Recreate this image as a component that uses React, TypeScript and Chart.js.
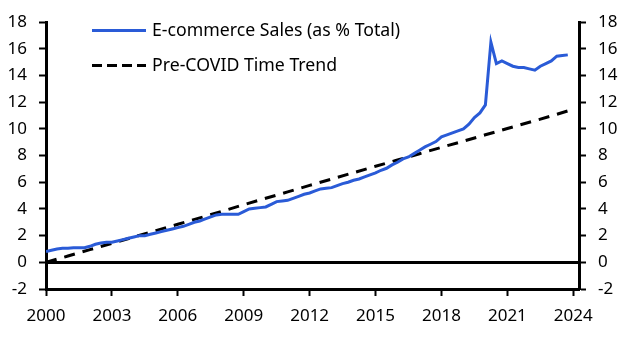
import React, { useEffect, useRef } from 'react';
import { Chart, registerables } from 'chart.js';

Chart.register(...registerables);

// ---- Data (quarterly, 2000Q1 .. 2023Q4) ----
const startYear = 2000;
const ecommerceSales = [
  0.8, 0.9, 1.0, 1.05,     // 2000
  1.05, 1.1, 1.1, 1.1,     // 2001
  1.2, 1.35, 1.45, 1.5,    // 2002
  1.5, 1.6, 1.7, 1.8,      // 2003
  1.9, 2.0, 2.0, 2.1,      // 2004
  2.2, 2.3, 2.4, 2.5,      // 2005
  2.6, 2.7, 2.85, 3.0,     // 2006
  3.1, 3.25, 3.4, 3.55,    // 2007
  3.6, 3.6, 3.6, 3.6,      // 2008
  3.8, 4.0, 4.05, 4.1,     // 2009
  4.15, 4.35, 4.55, 4.6,   // 2010
  4.65, 4.8, 4.95, 5.1,    // 2011
  5.2, 5.35, 5.5, 5.55,    // 2012
  5.6, 5.75, 5.9, 6.0,     // 2013
  6.15, 6.25, 6.4, 6.55,   // 2014
  6.7, 6.9, 7.05, 7.3,     // 2015
  7.5, 7.75, 7.9, 8.15,    // 2016
  8.4, 8.65, 8.85, 9.05,   // 2017
  9.4, 9.55, 9.7, 9.85,    // 2018
  10.0, 10.35, 10.85, 11.2,// 2019
  11.8, 16.5, 14.9, 15.1,  // 2020
  14.9, 14.7, 14.6, 14.6,  // 2021
  14.5, 14.4, 14.7, 14.9,  // 2022
  15.1, 15.45, 15.5, 15.55 // 2023
];

const trendYears = [
  2000, 2001, 2002, 2003, 2004, 2005, 2006, 2007, 2008, 2009, 2010, 2011,
  2012, 2013, 2014, 2015, 2016, 2017, 2018, 2019, 2020, 2021, 2022, 2023, 2023.75
];
const trendValues = [
  0.0, 0.47, 0.95, 1.42, 1.9, 2.38, 2.85, 3.33, 3.82, 4.32, 4.8, 5.28,
  5.77, 6.24, 6.72, 7.2, 7.67, 8.14, 8.62, 9.08, 9.56, 10.03, 10.5, 10.97, 11.35
];

const xTickYears = [2000, 2003, 2006, 2009, 2012, 2015, 2018, 2021, 2024];
const yTickValues = [-2, 0, 2, 4, 6, 8, 10, 12, 14, 16, 18];
const seriesLabels = ['E-commerce Sales (as % Total)', 'Pre-COVID Time Trend'];

const BLUE = '#2a5bd7';
const FONT = '"Noto Sans", "Open Sans", sans-serif';

const legendPlugin = {
  id: 'insideLegend',
  afterDatasetsDraw(chart: any) {
    const ctx = chart.ctx;
    ctx.save();
    chart.data.datasets.forEach((ds: any, i: number) => {
      const y = 30.5 + i * 35;
      ctx.beginPath();
      ctx.setLineDash(ds.legendDash || []);
      ctx.strokeStyle = ds.borderColor;
      ctx.lineWidth = 3;
      ctx.moveTo(92, y);
      ctx.lineTo(146, y);
      ctx.stroke();
      ctx.setLineDash([]);
      ctx.fillStyle = '#000';
      ctx.font = '17.7px ' + FONT;
      ctx.textBaseline = 'middle';
      ctx.textAlign = 'left';
      ctx.fillText(ds.label, 152, y);
    });
    ctx.restore();
  },
};

export default function App() {
  const canvasRef = useRef<HTMLCanvasElement | null>(null);

  useEffect(() => {
    if (!canvasRef.current) return;
    const salesPoints = ecommerceSales.map((v, i) => ({ x: startYear + i / 4, y: v }));
    const trendPoints = trendValues.map((v, i) => ({ x: trendYears[i], y: v }));

    const yAxisCommon = (position: 'left' | 'right', width: number, zeroLine: boolean) => ({
      type: 'linear',
      position,
      min: -2,
      max: 18,
      afterBuildTicks: (scale: any) => {
        scale.ticks = yTickValues.map((v) => ({ value: v }));
      },
      afterFit: (scale: any) => {
        scale.width = width;
      },
      ticks: {
        color: '#000',
        font: { family: FONT, size: 17 },
        padding: 12,
        callback: (v: any) => String(v),
      },
      grid: {
        drawOnChartArea: zeroLine,
        drawTicks: true,
        tickLength: 7,
        tickWidth: 2,
        tickColor: '#000',
        color: (ctx: any) => (ctx.tick && ctx.tick.value === 0 ? '#000' : 'rgba(0,0,0,0)'),
        lineWidth: (ctx: any) => (ctx.tick && ctx.tick.value === 0 ? 3 : 1),
      },
      border: { display: true, color: '#000', width: 3 },
    });

    const chart = new Chart(canvasRef.current, {
      type: 'line',
      data: {
        datasets: [
          {
            label: seriesLabels[0],
            data: salesPoints,
            borderColor: BLUE,
            backgroundColor: BLUE,
            borderWidth: 3,
            pointRadius: 0,
            tension: 0,
            yAxisID: 'y',
          } as any,
          {
            label: seriesLabels[1],
            data: trendPoints,
            borderColor: '#000',
            backgroundColor: '#000',
            borderWidth: 3,
            borderDash: [11, 8],
            legendDash: [10, 5],
            pointRadius: 0,
            tension: 0,
            yAxisID: 'y',
          } as any,
        ],
      },
      options: {
        animation: false,
        responsive: true,
        maintainAspectRatio: false,
        layout: { padding: { top: 15, left: 0, right: 0, bottom: 0 } },
        plugins: {
          legend: { display: false },
          tooltip: { enabled: false },
        },
        scales: {
          x: {
            type: 'linear',
            position: 'bottom',
            min: 2000,
            max: 2024.26,
            afterBuildTicks: (scale: any) => {
              scale.ticks = xTickYears.map((v) => ({ value: v }));
            },
            afterFit: (scale: any) => {
              scale.height = 59;
            },
            ticks: {
              color: '#000',
              font: { family: FONT, size: 17 },
              padding: 10,
              maxRotation: 0,
              autoSkip: false,
              callback: (v: any) => String(v),
            },
            grid: {
              drawOnChartArea: false,
              drawTicks: true,
              tickLength: 7,
              tickWidth: 2,
              tickColor: '#000',
            },
            border: { display: true, color: '#000', width: 3 },
          },
          y: yAxisCommon('left', 46, true),
          y2: yAxisCommon('right', 54, false),
        } as any,
      },
      plugins: [legendPlugin],
    } as any);

    return () => chart.destroy();
  }, []);

  return (
    <div style={{ position: 'fixed', left: 0, top: 0, width: 633, height: 348, background: '#fff' }}>
      <canvas ref={canvasRef} width={633} height={348} />
    </div>
  );
}
